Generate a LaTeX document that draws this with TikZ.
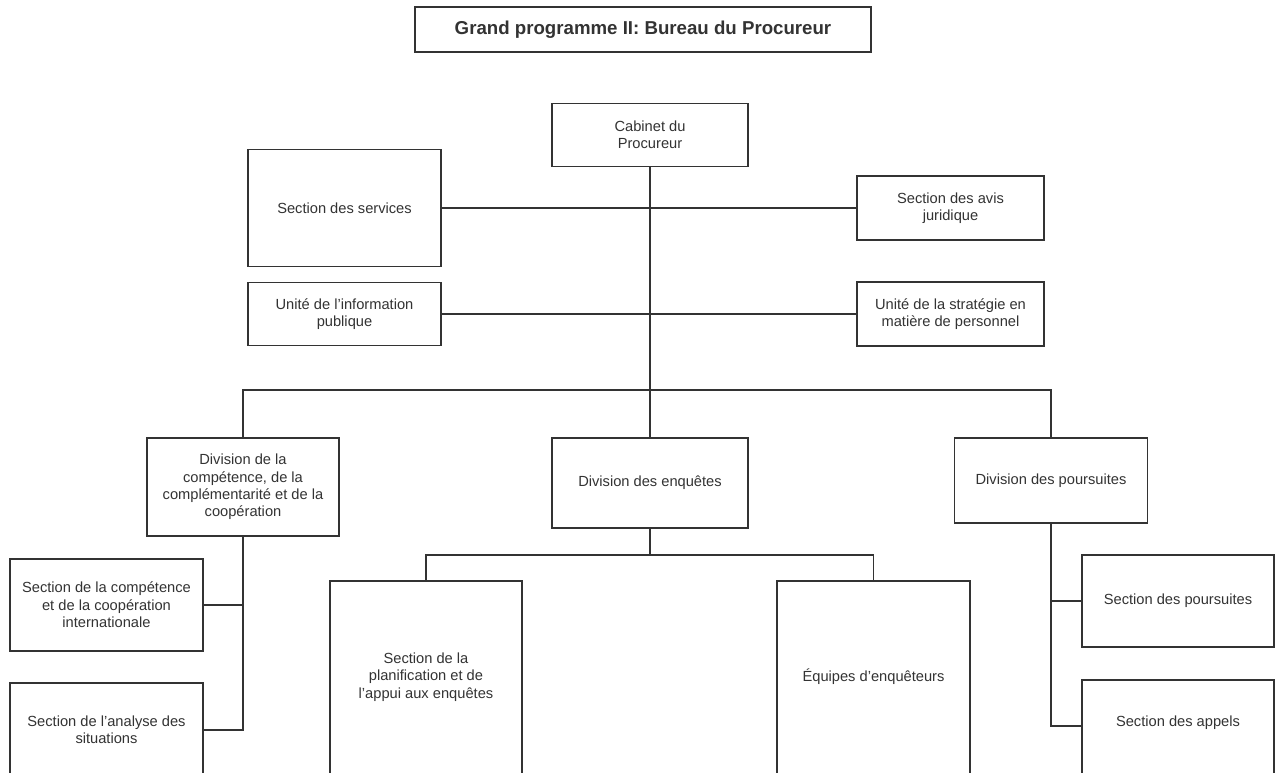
\documentclass[tikz,border=0pt]{standalone}
\usepackage{fontspec}
\setmainfont{Liberation Sans}
\definecolor{ink}{HTML}{333333}
\begin{document}
\begin{tikzpicture}[x=0.75pt,y=-0.75pt,
  box/.style 2 args={draw=ink, line width=1.4pt, inner sep=0pt, align=center, text=ink,
    font=\fontsize{11}{13}\selectfont, minimum width={#1*0.75pt}, minimum height={#2*0.75pt}},
  lbl/.style={align=center, text=ink, font=\fontsize{11}{13}\selectfont, inner sep=0pt},
  conn/.style={draw=ink, line width=1.4pt}]
\useasboundingbox (0,0) rectangle (1280,773);
\fill[white] (0,0) rectangle (1280,773);
\clip (0,0) rectangle (1280,773);

\node[box={456}{45}, font=\fontsize{14}{17}\selectfont\bfseries] (title) at (643,29.5) {Grand programme II: Bureau du Procureur};

\node[box={196}{63}] (cab) at (650,135) {Cabinet du\\Procureur};
\node[box={193}{117}] (serv) at (344.5,208) {Section des services};
\node[box={187}{64}] (avis) at (950.5,208) {Section des avis\\juridique};
\node[box={193}{63}] (info) at (344.5,314) {Unité de l’information\\publique};
\node[box={187}{64}] (strat) at (950.5,314) {Unité de la stratégie en\\matière de personnel};

\node[box={192}{98}] (divcomp) at (243,487) {Division de la\\compétence, de la\\complémentarité et de la\\coopération};
\node[box={196}{90}] (divenq) at (650,483) {Division des enquêtes};
\node[box={193}{85}] (divpour) at (1051,480.5) {Division des poursuites};

\node[box={193}{92}] (seccomp) at (106.5,605) {Section de la compétence\\et de la coopération\\internationale};
\node[box={193}{94}] (analyse) at (106.5,730) {Section de l’analyse des\\situations};

\node[box={192}{200}] (planif) at (426,681) {};
\node[lbl] (planif-t) at (426,677) {Section de la\\planification et de\\l’appui aux enquêtes};
\node[box={193}{200}] (equipes) at (873.5,681) {};
\node[lbl] (equipes-t) at (873.5,677) {Équipes d’enquêteurs};

\node[box={192}{92}] (secpour) at (1178,601) {Section des poursuites};
\node[box={192}{100}] (appels) at (1178,730) {};
\node[lbl] (appels-t) at (1178,723) {Section des appels};

\coordinate (bus) at (650,390);
\coordinate (enqbus) at (650,555);
\coordinate (pourA) at (1051,726);

\draw[conn] (cab.south) -- (cab.south |- divenq.north);
\draw[conn] (serv.east) -- (serv.east -| avis.west);
\draw[conn] (info.east) -- (info.east -| strat.west);
\draw[conn] (divcomp.north) |- (bus) -| (divpour.north);

\draw[conn] (divcomp.south) |- (seccomp.east);
\draw[conn] (divcomp.south) |- (analyse.east);

\draw[conn] (divenq.south) -- (enqbus);
\draw[conn] (planif.north) |- (enqbus) -| (equipes.north);

\draw[conn] (divpour.south) |- (secpour.west);
\draw[conn] (divpour.south) -- (pourA) -- (pourA -| appels.west);
\end{tikzpicture}
\end{document}
